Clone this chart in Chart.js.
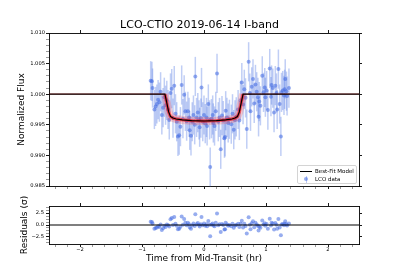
<!DOCTYPE html>
<html>
<head>
<meta charset="utf-8">
<script src="https://cdn.jsdelivr.net/npm/chart.js@4.4.1/dist/chart.umd.min.js"></script>
<style>
  body { margin: 0; background: #fff; }
  #wrap { position: relative; width: 399px; height: 279px; overflow: hidden; }
  canvas { position: absolute; left: 0; }
  #lc { top: 0; }
  #res { top: 195px; }
  #legend {
    position: absolute; left: 297px; top: 165px; width: 58px; height: 17px;
    border: 1px solid #d4d4d4; border-radius: 2px; background: rgba(255,255,255,0.85);
    font: 5.5px 'DejaVu Sans', sans-serif; color: #000;
  }
  #legend .row { position: absolute; left: 0; height: 8px; width: 58px; }
  #legend .txt { position: absolute; left: 17px; top: 1px; line-height: 6px; white-space: nowrap; }
  #legend .ln { position: absolute; left: 2px; top: 3.5px; width: 12px; height: 1.2px; background: #000; }
  #legend .eb { position: absolute; left: 7.5px; top: 0.5px; width: 1.2px; height: 7px; background: rgba(65,105,225,0.35); }
  #legend .pt { position: absolute; left: 6.2px; top: 2.2px; width: 4px; height: 4px; border-radius: 50%; background: rgba(65,105,225,0.55); }
</style>
</head>
<body>
<div id="wrap">
  <canvas id="lc" width="399" height="195"></canvas>
  <canvas id="res" width="399" height="70"></canvas>
  <div id="legend">
    <div class="row" style="top:1px"><div class="ln"></div><div class="txt">Best-Fit Model</div></div>
    <div class="row" style="top:9px"><div class="eb"></div><div class="pt"></div><div class="txt">LCO data</div></div>
  </div>
</div>
<script>
const TITLE = 'LCO-CTIO 2019-06-14 I-band';

// observations: time from mid-transit (hr) and normalized flux
const TIME = [-0.86, -0.84, -0.83, -0.80, -0.78, -0.76, -0.74, -0.72, -0.70, -0.68,
  -0.66, -0.64, -0.62, -0.60, -0.58, -0.56, -0.54, -0.52, -0.50, -0.48,
  -0.46, -0.44, -0.42, -0.40, -0.38, -0.36, -0.34, -0.32, -0.30, -0.28,
  -0.26, -0.24, -0.23, -0.21, -0.19, -0.17, -0.15, -0.14, -0.12, -0.10,
  -0.08, -0.07, -0.05, -0.04, -0.02, 0.00, 0.02, 0.04, 0.05, 0.07,
  0.09, 0.10, 0.12, 0.14, 0.15, 0.17, 0.19, 0.21, 0.23, 0.25,
  0.27, 0.29, 0.31, 0.33, 0.34, 0.35, 0.37, 0.39, 0.41, 0.44,
  0.46, 0.48, 0.50, 0.52, 0.55, 0.57, 0.59, 0.61, 0.63, 0.65,
  0.67, 0.69, 0.72, 0.74, 0.75, 0.77, 0.79, 0.81, 0.83, 0.85,
  0.87, 0.88, 0.89, 0.91, 0.94, 0.96, 0.98, 0.99, 1.01, 1.03,
  1.06, 1.08, 1.09, 1.11, 1.13, 1.15, 1.17, 1.18, 1.20, 1.22,
  1.24, 1.25, 1.27, 1.29, 1.30, 1.31, 1.33, 1.34, 1.37];
const FLUX = [1.0022, 1.0021, 1.0010, 0.9975, 0.9980, 0.9984, 0.9991, 0.9987, 1.0004, 0.9966,
  0.9978, 0.9995, 0.9982, 0.9990, 0.9975, 0.9958, 1.0002, 1.0009, 0.9961, 1.0014,
  0.9968, 0.9955, 0.9931, 0.9933, 0.9947, 1.0015, 0.9960, 0.9999, 0.9972, 0.9956,
  0.9972, 0.9962, 0.9941, 0.9932, 0.9955, 0.9966, 0.9950, 1.0029, 0.9962, 0.9970,
  0.9958, 0.9946, 0.9961, 1.0011, 0.9955, 0.9966, 0.9952, 0.9962, 0.9948, 0.9984,
  0.9958, 0.9881, 0.9960, 0.9966, 0.9953, 0.9948, 0.9972, 1.0034, 0.9955, 0.9962,
  0.9910, 0.9965, 0.9957, 0.9928, 0.9930, 0.9973, 0.9962, 0.9953, 0.9959, 0.9951,
  0.9968, 0.9942, 0.9958, 0.9963, 0.9975, 0.9957, 0.9990, 1.0019, 0.9983, 1.0008,
  0.9994, 0.9943, 1.0053, 1.0002, 0.9972, 1.0012, 1.0025, 0.9985, 1.0016, 1.0004,
  0.9995, 0.9963, 0.9988, 0.9981, 1.0030, 1.0003, 1.0011, 0.9995, 1.0006, 0.9974,
  1.0042, 0.9996, 1.0015, 1.0010, 0.9970, 1.0014, 1.0002, 0.9975, 1.0041, 0.9984,
  0.9931, 1.0003, 1.0006, 0.9998, 1.0008, 1.0025, 1.0005, 0.9997, 1.0010];
const FLUX_ERR = 0.0032;

// best-fit transit model
const MODEL_T = [-2.5, -0.63, -0.60, -0.57, -0.54, -0.50, -0.45, -0.35, -0.20, 0.00,
  0.20, 0.35, 0.45, 0.50, 0.54, 0.57, 0.60, 0.63, 2.5];
const MODEL_F = [1.0, 1.0, 0.9986, 0.9971, 0.99635, 0.99610, 0.99595, 0.99580, 0.99568, 0.99562,
  0.99568, 0.99580, 0.99595, 0.99610, 0.99635, 0.9971, 0.9986, 1.0, 1.0];

const X_MAJOR = [-2, -1, 0, 1, 2];
const FLUX_MAJOR = [0.985, 0.990, 0.995, 1.000, 1.005, 1.010];
const RES_MAJOR = [-2.5, 0, 2.5];

const FONT = "'DejaVu Sans', sans-serif";
const DOT = 'rgba(65,105,225,0.55)';

function modelAt(t) {
  for (let i = 1; i < MODEL_T.length; i++) {
    if (t <= MODEL_T[i]) {
      const a = (t - MODEL_T[i - 1]) / (MODEL_T[i] - MODEL_T[i - 1]);
      return MODEL_F[i - 1] + a * (MODEL_F[i] - MODEL_F[i - 1]);
    }
  }
  return MODEL_F[MODEL_F.length - 1];
}

const obsPts = TIME.map((t, i) => ({ x: t, y: FLUX[i] }));
const modelPts = MODEL_T.map((t, i) => ({ x: t, y: MODEL_F[i] }));
const transitPts = modelPts.filter(p => Math.abs(p.x) < 0.8);
const resPts = TIME.map((t, i) => ({ x: t, y: (FLUX[i] - modelAt(t)) / FLUX_ERR }));

// minor tick positions (matplotlib-style auto minor)
const xTicks = [];
for (let k = -12; k <= 12; k++) xTicks.push(k / 5);
const fluxTicks = [];
for (let k = 985; k <= 1010; k++) fluxTicks.push(k / 1000);
const resTicks = [];
for (let k = -6; k <= 6; k++) resTicks.push(k * 0.625);

const near = (v, list) => list.some(m => Math.abs(m - v) < 1e-9);
const minus = s => s.replace('-', '\u2212');

function axis(o) {
  return {
    type: 'linear', position: o.position, min: o.min, max: o.max,
    afterFit: s => { if (s.isHorizontal()) s.height = o.size; else s.width = o.size; },
    afterBuildTicks: s => { s.ticks = o.ticks.map(v => ({ value: v })); },
    border: { display: true, color: '#000', width: 0.9 },
    grid: {
      drawOnChartArea: false, drawTicks: true, tickLength: 3,
      tickColor: c => near(c.tick.value, o.major) ? '#000' : '#555',
      tickWidth: c => near(c.tick.value, o.major) ? 0.9 : 0.6
    },
    ticks: {
      display: !!o.label, autoSkip: false, maxRotation: 0, padding: o.pad || 0,
      color: '#000', font: { family: FONT, size: 5.2 },
      callback: v => (o.label && near(v, o.major)) ? o.label(v) : ''
    },
    title: o.title ? {
      display: true, text: o.title, color: '#000',
      font: { family: FONT, size: 9 }, padding: o.titlePad
    } : { display: false }
  };
}

const errorBars = {
  id: 'errorBars',
  beforeDatasetsDraw(chart) {
    const { ctx, scales: { x, y } } = chart;
    ctx.save();
    ctx.strokeStyle = 'rgba(65,105,225,0.33)';
    ctx.lineWidth = 1.5;
    TIME.forEach((t, i) => {
      const px = x.getPixelForValue(t);
      ctx.beginPath();
      ctx.moveTo(px, y.getPixelForValue(FLUX[i] - FLUX_ERR));
      ctx.lineTo(px, y.getPixelForValue(FLUX[i] + FLUX_ERR));
      ctx.stroke();
    });
    ctx.restore();
  }
};

const lineDs = (data, color, width) => ({
  type: 'line', data: data, borderColor: color, borderWidth: width,
  pointRadius: 0, fill: false, tension: 0
});

new Chart(document.getElementById('lc'), {
  type: 'scatter',
  data: {
    datasets: [
      lineDs(modelPts, '#000', 1.2),
      lineDs(modelPts, 'rgba(255,0,0,0.35)', 1.8),
      lineDs(transitPts, 'rgba(255,0,0,0.5)', 3.4),
      lineDs(transitPts, 'rgba(255,50,50,0.22)', 8),
      { data: obsPts, pointRadius: 2, backgroundColor: DOT, borderWidth: 0 }
    ]
  },
  options: {
    responsive: false, animation: false,
    plugins: {
      legend: { display: false }, tooltip: { enabled: false },
      title: {
        display: true, text: TITLE, color: '#000',
        font: { family: FONT, size: 11, weight: 'normal' },
        padding: { top: 19, bottom: 0 }
      }
    },
    scales: {
      x: axis({ position: 'bottom', min: -2.5, max: 2.5, size: 9, ticks: xTicks, major: X_MAJOR }),
      x2: axis({ position: 'top', min: -2.5, max: 2.5, size: 0.8, ticks: X_MAJOR, major: X_MAJOR }),
      y: axis({ position: 'left', min: 0.985, max: 1.010, size: 49, ticks: fluxTicks, major: FLUX_MAJOR,
        pad: 1, label: v => v.toFixed(3), title: 'Normalized Flux', titlePad: { top: 16.5, bottom: 0 } }),
      y2: axis({ position: 'right', min: 0.985, max: 1.010, size: 40, ticks: FLUX_MAJOR, major: FLUX_MAJOR })
    }
  },
  plugins: [errorBars]
});

new Chart(document.getElementById('res'), {
  type: 'scatter',
  data: {
    datasets: [
      lineDs([{ x: -2.5, y: 0 }, { x: 2.5, y: 0 }], 'rgba(0,0,0,0.5)', 2),
      { data: resPts, pointRadius: 2, backgroundColor: DOT, borderWidth: 0 }
    ]
  },
  options: {
    responsive: false, animation: false,
    plugins: { legend: { display: false }, tooltip: { enabled: false } },
    scales: {
      x: axis({ position: 'bottom', min: -2.5, max: 2.5, size: 21, ticks: xTicks, major: X_MAJOR,
        label: v => minus(String(v)), title: 'Time from Mid-Transit (hr)', titlePad: { top: 0, bottom: 0.6 } }),
      x2: axis({ position: 'top', min: -2.5, max: 2.5, size: 11, ticks: X_MAJOR, major: X_MAJOR }),
      y: axis({ position: 'left', min: -4, max: 4, size: 49, ticks: resTicks, major: RES_MAJOR,
        pad: 2, label: v => minus(v.toFixed(1)), title: 'Residuals (\u03c3)', titlePad: { top: 19, bottom: 0 } }),
      y2: axis({ position: 'right', min: -4, max: 4, size: 40, ticks: RES_MAJOR, major: RES_MAJOR })
    }
  }
});
</script>
</body>
</html>
